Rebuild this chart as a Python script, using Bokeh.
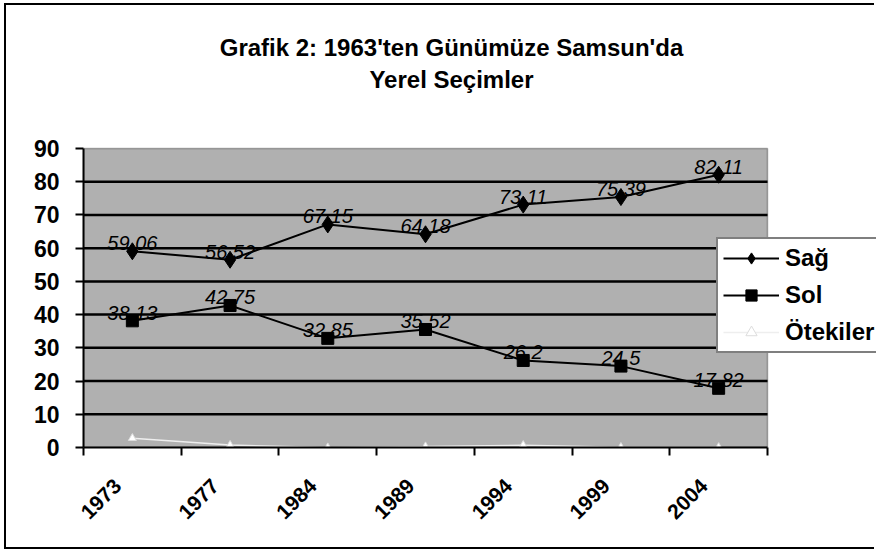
import math
from bokeh.plotting import figure
from bokeh.models import FixedTicker, Legend, LegendItem, Range1d, BoxAnnotation, Label
from bokeh.core.properties import value
from bokeh.embed import file_html
from bokeh.resources import INLINE

years = ["1973", "1977", "1984", "1989", "1994", "1999", "2004"]
sag = [59.06, 56.52, 67.15, 64.18, 73.11, 75.39, 82.11]
sol = [38.13, 42.75, 32.85, 35.52, 26.2, 24.5, 17.82]
otekiler = [2.81, 0.73, 0.0, 0.30, 0.69, 0.11, 0.07]
sag_labels = ["59,06", "56,52", "67,15", "64,18", "73,11", "75,39", "82,11"]
sol_labels = ["38,13", "42,75", "32,85", "35,52", "26,2", "24,5", "17,82"]
y_ticks = [0, 10, 20, 30, 40, 50, 60, 70, 80, 90]
title_1 = "Grafik 2: 1963'ten Günümüze Samsun'da"
title_2 = "Yerel Seçimler"

FONT = "Liberation Sans"
n = len(years)
xs = list(range(n))
x_lo, x_hi = -0.5, n - 0.5
y_lo, y_hi = y_ticks[0], y_ticks[-1]

# ---- layout (pixels) ----
W, H = 870, 546            # canvas size
CANVAS_X, CANVAS_Y = 6, 5  # canvas origin on the page (margin + border)
LEFT, BOTTOM = 77, 104     # space for the y axis / x axis labels
PLOT_W, PLOT_H = 684, 299  # size of the grey plot area
plot_left_page = CANVAS_X + LEFT
plot_bottom_page = CANVAS_Y + H - BOTTOM
px_x = PLOT_W / (x_hi - x_lo)
px_y = PLOT_H / (y_hi - y_lo)
# the frame runs on above the plot area (title) and to its right (legend)
x_end = x_lo + (W - LEFT) / px_x
y_end = y_lo + (H - BOTTOM) / px_y


def page_to_x(px):
    return x_lo + (px - plot_left_page) / px_x


def page_to_y(py):
    return y_lo + (plot_bottom_page - py) / px_y


p = figure(width=W, height=H, x_range=Range1d(x_lo, x_end), y_range=Range1d(y_lo, y_end),
           output_backend="svg", toolbar_location=None, title=None,
           min_border_left=LEFT, min_border_right=0, min_border_top=0, min_border_bottom=BOTTOM)
p.styles = {"border-left": "2px solid black", "border-top": "2px solid black",
            "border-bottom": "2px solid black", "margin-left": "4px", "margin-top": "3px"}

p.background_fill_color = "white"
p.border_fill_color = "white"
p.outline_line_color = None

# grey plot area with its border
p.add_layout(BoxAnnotation(left=x_lo, right=x_hi, bottom=y_lo, top=y_hi, fill_color="#b0b0b0",
                           fill_alpha=1, line_color="black", line_width=1.5, level="underlay"))

# title (two centred lines)
title_kw = dict(text_font=FONT, text_font_size="24px", text_font_style="bold", text_color="black",
                text_align="center", text_baseline="alphabetic")
p.add_layout(Label(x=page_to_x(451), y=page_to_y(47), text=title_1, **title_kw))
p.add_layout(Label(x=page_to_x(451), y=page_to_y(79), text=title_2, **title_kw))

# y axis
p.yaxis.bounds = (y_lo, y_hi)
p.yaxis.ticker = FixedTicker(ticks=y_ticks)
p.yaxis.major_label_text_font = FONT
p.yaxis.major_label_text_font_size = "23px"
p.yaxis.major_label_text_font_style = "bold"
p.yaxis.major_label_text_color = "black"
p.yaxis.axis_line_width = 2
p.yaxis.major_tick_out = 8
p.yaxis.major_tick_in = 0
p.yaxis.major_tick_line_width = 2
p.yaxis.minor_tick_line_color = None
p.yaxis.major_label_standoff = 16

# x axis: labels near category centres, ticks at category boundaries
label_shift = -0.15
label_pos = [i + label_shift for i in xs]
p.xaxis.bounds = (x_lo, x_hi)
p.xaxis.ticker = FixedTicker(ticks=label_pos, minor_ticks=[i - 0.5 for i in range(n + 1)])
p.xaxis.major_label_overrides = {t: y for t, y in zip(label_pos, years)}
p.xaxis.major_tick_line_color = None
p.xaxis.major_tick_out = 0
p.xaxis.major_tick_in = 0
p.xaxis.minor_tick_out = 8
p.xaxis.minor_tick_in = 0
p.xaxis.minor_tick_line_width = 2
p.xaxis.minor_tick_line_color = "black"
p.xaxis.axis_line_width = 2
p.xaxis.major_label_orientation = math.pi / 4
p.xaxis.major_label_text_font = FONT
p.xaxis.major_label_text_font_size = "21px"
p.xaxis.major_label_text_font_style = "bold"
p.xaxis.major_label_text_color = "black"
p.xaxis.major_label_standoff = 27

# horizontal grid lines, only across the plot area
p.xgrid.visible = False
p.ygrid.visible = False
grid_y = y_ticks[1:-1]
p.segment(x0=[x_lo] * len(grid_y), x1=[x_hi] * len(grid_y), y0=grid_y, y1=grid_y,
          line_color="black", line_width=2.5)

# series
l_sag = p.line(xs, sag, line_color="black", line_width=2)
m_sag = p.scatter(xs, sag, marker="diamond", size=17, fill_color="black", line_color="black")
l_sol = p.line(xs, sol, line_color="black", line_width=2)
m_sol = p.scatter(xs, sol, marker="square", size=12, fill_color="black", line_color="black")
l_ot = p.line(xs, otekiler, line_color="#eeeeee", line_width=1.5)
m_ot = p.scatter(xs, otekiler, marker="triangle", size=8, fill_color="white", line_color="#dddddd")

lab_kw = dict(text_font=value(FONT), text_font_style="italic", text_font_size="20px",
              text_align="center", text_baseline="alphabetic", text_color="black")
p.text(x=xs, y=sag, text=sag_labels, y_offset=-8, **lab_kw)
p.text(x=xs, y=sol, text=sol_labels, y_offset=-8, **lab_kw)

legend = Legend(items=[LegendItem(label="Sağ", renderers=[l_sag, m_sag]),
                       LegendItem(label="Sol", renderers=[l_sol, m_sol]),
                       LegendItem(label="Ötekiler", renderers=[l_ot, m_ot])],
                location=(633, 94))
legend.border_line_color = "black"
legend.border_line_width = 2
legend.background_fill_color = "white"
legend.background_fill_alpha = 1
legend.label_text_font = FONT
legend.label_text_font_size = "24px"
legend.label_text_font_style = "bold"
legend.label_text_color = "black"
legend.glyph_width = 56
legend.glyph_height = 28
legend.label_height = 28
legend.label_standoff = 6
legend.spacing = 9
legend.padding = 5
legend.margin = 0
p.add_layout(legend)

open("out.html", "w").write(file_html(p, INLINE))
